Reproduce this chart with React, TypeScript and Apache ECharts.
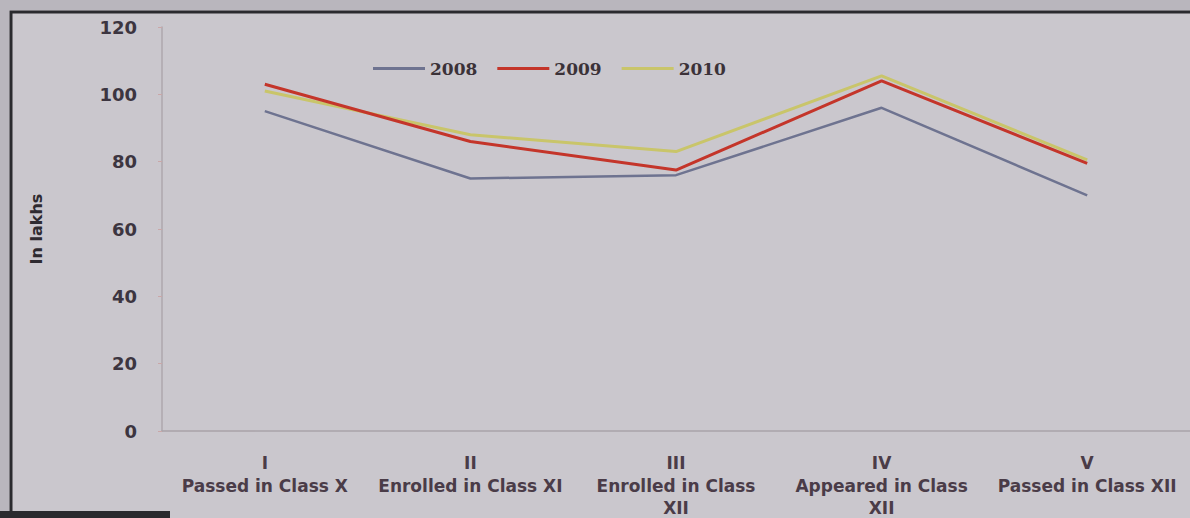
import React, { useEffect, useRef } from "react";
import * as echarts from "echarts";

const categories = [
  "I\nPassed in Class X",
  "II\nEnrolled in Class XI",
  "III\nEnrolled in Class\nXII",
  "IV\nAppeared in Class\nXII",
  "V\nPassed in Class XII",
];
const yTicks = [0, 20, 40, 60, 80, 100, 120];
const s2008 = [95, 75, 76, 96, 70];
const s2009 = [103, 86, 77.5, 104, 79.5];
const s2010 = [101, 88, 83, 105.5, 80.5];
const seriesNames = ["2008", "2009", "2010"];

export default function App() {
  const ref = useRef<HTMLDivElement>(null);
  useEffect(() => {
    document.body.style.margin = "0";
    const chart = echarts.init(ref.current!, null, { renderer: "svg" });
    const colors = ["#6e7390", "#c4352a", "#c9c56a"];
    const data = [s2008, s2009, s2010];
    chart.setOption({
      animation: false,
      backgroundColor: "#cac7cd",
      graphic: [
        {
          type: "polyline",
          shape: { points: [[11, 515], [11, 12], [1190, 12]] },
          style: { stroke: "#2a2a2e", lineWidth: 3, fill: "none" },
          z: 10,
        },
        {
          type: "rect",
          shape: { x: 0, y: 0, width: 9, height: 518 },
          style: { fill: "#b9b6bd" },
          z: -1,
        },
        {
          type: "rect",
          shape: { x: 0, y: 0, width: 1190, height: 10 },
          style: { fill: "#b9b6bd" },
          z: -1,
        },
        {
          type: "rect",
          shape: { x: 0, y: 511, width: 170, height: 7 },
          style: { fill: "#2a2a2e" },
          z: 10,
        },
      ],
      legend: {
        data: seriesNames,
        left: 368,
        top: 55,
        itemWidth: 52,
        itemHeight: 3,
        itemGap: 20,
        icon: "rect",
        textStyle: {
          fontFamily: "DejaVu Serif",
          fontWeight: "bold",
          fontSize: 17,
          color: "#3b3238",
        },
      },
      grid: {
        left: 162,
        right: 0,
        top: 27,
        bottom: 87,
        containLabel: false,
        outerBoundsMode: "none",
      },
      xAxis: {
        type: "category",
        data: categories,
        boundaryGap: true,
        axisLine: { lineStyle: { color: "#a9a3a8", width: 1.5 } },
        axisTick: { alignWithLabel: true, length: 4, lineStyle: { color: "#a9a3a8" } },
        axisLabel: {
          interval: 0,
          margin: 21,
          lineHeight: 22.5,
          fontFamily: "DejaVu Sans",
          fontWeight: "bold",
          fontSize: 17,
          color: "#4a3c48",
        },
      },
      yAxis: {
        type: "value",
        min: 0,
        max: 120,
        interval: 20,
        name: "In lakhs",
        nameLocation: "middle",
        nameGap: 118,
        nameRotate: 90,
        nameTextStyle: {
          fontFamily: "DejaVu Sans",
          fontWeight: "bold",
          fontSize: 16,
          color: "#2e2a30",
        },
        axisLine: { show: true, lineStyle: { color: "#aea7ad", width: 1.5 } },
        axisTick: { show: true, length: 4, lineStyle: { color: "#c9a7a8" } },
        splitLine: { show: false },
        axisLabel: {
          margin: 25,
          fontFamily: "DejaVu Sans",
          fontWeight: "bold",
          fontSize: 18,
          color: "#3c3540",
          formatter: (v: number) => (yTicks.includes(v) ? String(v) : ""),
        },
      },
      series: seriesNames.map((n, i) => ({
        name: n,
        type: "line",
        data: data[i],
        symbol: "none",
        lineStyle: { color: colors[i], width: i === 0 ? 2.5 : 3 },
        itemStyle: { color: colors[i] },
        z: i === 1 ? 3 : i === 2 ? 2 : 1,
      })),
    });
    return () => chart.dispose();
  }, []);
  return (
    <div
      ref={ref}
      style={{ position: "fixed", left: 0, top: 0, width: 1190, height: 518 }}
    />
  );
}
